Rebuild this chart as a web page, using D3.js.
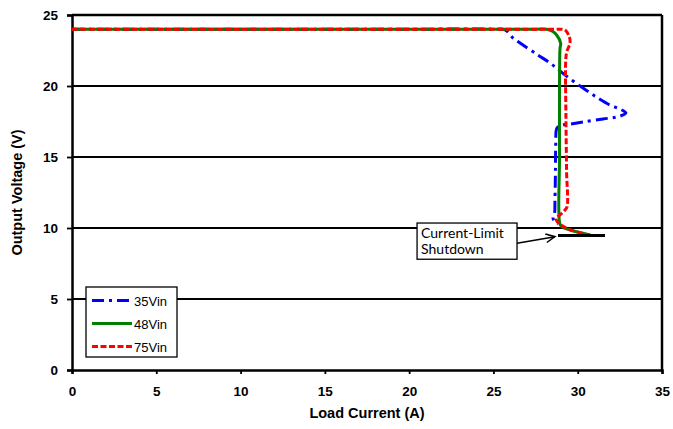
<!DOCTYPE html>
<html>
<head>
<meta charset="utf-8">
<script src="https://cdn.jsdelivr.net/npm/d3@7"></script>
<style>
  body { margin: 0; background: #fff; }
  text { font-family: "Liberation Sans", Arial, sans-serif; }
</style>
</head>
<body>
<div id="chart"></div>
<script>
// data (load current in A, output voltage in V)
var seriesNames = ["35Vin", "48Vin", "75Vin"];
var colors = ["#0000ff", "#008000", "#ff0000"];

var i35 = [0, 10, 20, 25.0, 25.69, 26.16, 26.58, 27.64, 28.36, 29.25, 30.31, 31.2, 31.91, 32.51, 32.86, 32.33, 31.5, 30.31, 29.54, 29.07, 28.77, 28.7, 28.68, 28.65, 28.62, 28.53, 28.6, 28.83];
var v35 = [24.0, 24.0, 24.0, 24.0, 23.95, 23.38, 23.03, 22.18, 21.62, 20.77, 19.86, 19.15, 18.66, 18.38, 18.1, 17.82, 17.68, 17.46, 17.32, 17.25, 17.04, 16.0, 14.0, 12.0, 11.0, 10.75, 10.5, 10.28];

var i48 = [0, 10, 20, 27.5, 28.16, 28.5, 28.75, 28.99, 28.95, 28.92, 28.92, 28.93, 29.05, 29.54, 30.31, 30.73];
var v48 = [24.0, 24.0, 24.0, 24.0, 24.0, 23.85, 23.59, 23.0, 22.65, 20.0, 15.0, 10.35, 10.09, 9.86, 9.63, 9.51];

var i75 = [0, 10, 20, 28.0, 28.65, 29.0, 29.25, 29.5, 29.54, 29.35, 29.29, 29.3, 29.34, 29.37, 29.25, 28.95, 28.71, 28.79, 29.35, 30.13, 30.73];
var v75 = [24.0, 24.0, 24.0, 24.0, 24.0, 24.0, 23.94, 23.47, 23.0, 22.42, 21.83, 18.0, 14.0, 11.5, 11.27, 10.92, 10.68, 10.44, 9.98, 9.67, 9.51];

var xTicks = [0, 5, 10, 15, 20, 25, 30, 35];
var yTicks = [0, 5, 10, 15, 20, 25];

var shutdownI = [28.83, 31.62];
var shutdownV = 9.47;

// set the dimensions and margins of the graph
var margin = { top: 15, right: 11, bottom: 59, left: 72 },
    width = 673 - margin.left - margin.right,
    height = 429 - margin.top - margin.bottom;

var svg = d3.select("#chart")
    .append("svg")
    .attr("width", 673)
    .attr("height", 429)
    .append("g")
    .attr("transform", "translate(" + margin.left + "," + margin.top + ")");

var x = d3.scaleLinear().domain([0, 35]).range([0, width]);
var y = d3.scaleLinear().domain([0, 25]).range([height, 0]);

// gridlines
svg.append("g")
    .selectAll("line")
    .data(yTicks.filter(function (d) { return d > 0; }))
    .enter()
    .append("line")
    .attr("x1", 0).attr("x2", width)
    .attr("y1", function (d) { return y(d); })
    .attr("y2", function (d) { return y(d); })
    .attr("stroke", "#000")
    .attr("stroke-width", function (d) { return d == 25 ? 2.5 : 1.8; });

// right border
svg.append("line")
    .attr("x1", width).attr("x2", width)
    .attr("y1", 0).attr("y2", height)
    .attr("stroke", "#000").attr("stroke-width", 2.5);

// axes
var xAxis = svg.append("g")
    .attr("transform", "translate(0," + height + ")")
    .call(d3.axisBottom(x).tickValues(xTicks).tickSize(4).tickPadding(12));
var yAxis = svg.append("g")
    .call(d3.axisLeft(y).tickValues(yTicks).tickSize(5).tickPadding(9));
[xAxis, yAxis].forEach(function (a) {
    a.select(".domain").attr("stroke-width", 2.5);
    a.selectAll(".tick line").attr("stroke-width", 1.8);
    a.selectAll("text")
        .style("font-size", "13.5px")
        .style("font-weight", "bold")
        .attr("fill", "#000");
});

svg.append("text")
    .attr("x", width / 2)
    .attr("y", height + 48)
    .style("text-anchor", "middle")
    .style("font-size", "14.5px")
    .style("font-weight", "bold")
    .text("Load Current (A)");

svg.append("text")
    .attr("transform", "rotate(-90)")
    .attr("x", -height / 2)
    .attr("y", -50)
    .style("text-anchor", "middle")
    .style("font-size", "14.5px")
    .style("font-weight", "bold")
    .text("Output Voltage (V)");

// curves
var line = d3.line()
    .x(function (d) { return x(d[0]); })
    .y(function (d) { return y(d[1]); })
    .curve(d3.curveCatmullRom.alpha(0.5));

var dashes = ["12,5,3,5", null, "6,2.5"];
var series = [d3.zip(i35, v35), d3.zip(i48, v48), d3.zip(i75, v75)];
var drawOrder = [0, 1, 2];
drawOrder.forEach(function (k) {
    svg.append("path")
        .datum(series[k])
        .attr("d", line)
        .attr("fill", "none")
        .attr("stroke", colors[k])
        .attr("stroke-width", 3)
        .attr("stroke-dasharray", dashes[k]);
});

// shutdown level
svg.append("line")
    .attr("x1", x(shutdownI[0])).attr("x2", x(shutdownI[1]))
    .attr("y1", y(shutdownV)).attr("y2", y(shutdownV))
    .attr("stroke", "#000").attr("stroke-width", 3);

// annotation
var box = { i0: 20.47, i1: 26.4, v0: 10.35, v1: 7.8 };
svg.append("rect")
    .attr("x", x(box.i0)).attr("y", y(box.v0))
    .attr("width", x(box.i1) - x(box.i0))
    .attr("height", y(box.v1) - y(box.v0))
    .attr("fill", "#fff").attr("stroke", "#000").attr("stroke-width", 1.3);
svg.append("text")
    .attr("x", x(box.i0) + 4).attr("y", y(box.v0) + 15)
    .style("font-family", "Lato, 'Open Sans', sans-serif")
    .style("font-size", "14px")
    .text("Current-Limit");
svg.append("text")
    .attr("x", x(box.i0) + 4).attr("y", y(box.v0) + 31)
    .style("font-family", "Lato, 'Open Sans', sans-serif")
    .style("font-size", "14px")
    .text("Shutdown");

var ax0 = x(26.4), ay0 = y(8.92), ax1 = x(28.65), ay1 = y(9.39);
var ang = Math.atan2(ay1 - ay0, ax1 - ax0);
svg.append("line")
    .attr("x1", ax0).attr("y1", ay0).attr("x2", ax1).attr("y2", ay1)
    .attr("stroke", "#000").attr("stroke-width", 1.5);
svg.append("path")
    .attr("d", "M" + (ax1 - 10 * Math.cos(ang - 0.45)) + "," + (ay1 - 10 * Math.sin(ang - 0.45)) +
        "L" + ax1 + "," + ay1 +
        "L" + (ax1 - 10 * Math.cos(ang + 0.45)) + "," + (ay1 - 10 * Math.sin(ang + 0.45)))
    .attr("fill", "none").attr("stroke", "#000").attr("stroke-width", 1.5);

// legend
var lg = svg.append("g").attr("transform", "translate(14,272)");
lg.append("rect")
    .attr("width", 91).attr("height", 70)
    .attr("fill", "#fff").attr("stroke", "#000").attr("stroke-width", 1.3);
seriesNames.forEach(function (name, k) {
    var ly = 13.5 + k * 23;
    lg.append("line")
        .attr("x1", 6).attr("x2", 46)
        .attr("y1", ly).attr("y2", ly)
        .attr("stroke", colors[k])
        .attr("stroke-width", 3)
        .attr("stroke-dasharray", dashes[k]);
    lg.append("text")
        .attr("x", 48).attr("y", ly + 5)
        .style("font-size", "13px")
        .text(name);
});
</script>
</body>
</html>
